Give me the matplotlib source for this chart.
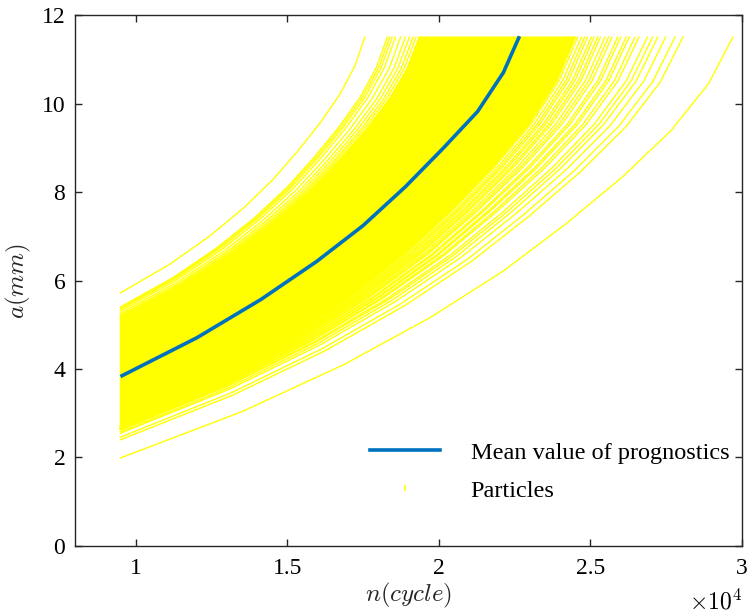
import numpy as np
import matplotlib
matplotlib.use("Agg")
import matplotlib.pyplot as plt
from matplotlib.lines import Line2D

plt.rcParams["font.family"] = ["Liberation Serif", "DejaVu Serif"]
plt.rcParams["mathtext.fontset"] = "cm"

# ---------------- data (n in units of 1e4 cycles, a in mm) ----------------
n_start = 0.95
a_fail = 11.5

# mean prognostic curve
mean_n = [0.95, 1.203, 1.413, 1.597, 1.75, 1.89, 2.016, 2.128, 2.213, 2.266]
mean_a = [3.83, 4.71, 5.57, 6.43, 7.24, 8.12, 9.00, 9.82, 10.70, 11.52]

# common growth profile of a particle trajectory (fractions)
growth_frac_n = [0.0, 0.20, 0.365, 0.505, 0.625, 0.727, 0.819, 0.899, 0.960, 1.0]
growth_frac_a = [0.0, 0.111, 0.222, 0.333, 0.444, 0.556, 0.667, 0.778, 0.889, 1.0]

# individually visible particles: start crack size (mm) and cycles at failure size
upper_a0 = [5.72, 5.40, 5.38, 5.35, 5.31, 5.26, 5.22, 5.19, 5.17, 5.16]
upper_nend = [1.756, 1.830, 1.838, 1.846, 1.857, 1.874, 1.890, 1.903, 1.915, 1.925]

lower_a0 = [2.72, 2.72, 2.71, 2.71, 2.70, 2.70, 2.69, 2.69, 2.68, 2.68,
            2.67, 2.67, 2.66, 2.66, 2.65, 2.65, 2.64, 2.64, 2.63, 2.62,
            2.58, 2.55, 2.46, 2.40, 1.99]
lower_nend = [2.450, 2.458, 2.470, 2.481, 2.490, 2.503, 2.512, 2.524, 2.533, 2.548,
              2.560, 2.571, 2.590, 2.600, 2.618, 2.628, 2.647, 2.660, 2.688, 2.705,
              2.722, 2.748, 2.779, 2.805, 2.970]

# dense core of the particle cloud (bounded by two particle trajectories)
core_upper = (5.15, 1.935)
core_lower = (2.72, 2.450)

x_ticks = [1, 1.5, 2, 2.5, 3]
x_tick_labels = ["1", "1.5", "2", "2.5", "3"]
y_ticks = [0, 2, 4, 6, 8, 10, 12]


def particle_curve(a0, nend):
    fn = np.array(growth_frac_n)
    fa = np.array(growth_frac_a)
    return n_start + (nend - n_start) * fn, a0 + (a_fail - a0) * fa


# ---------------- figure ----------------
fig = plt.figure(figsize=(7.52, 6.15), dpi=100)
ax = fig.add_axes([0.0997, 0.1122, 0.887, 0.8634])

yellow = (1.0, 1.0, 0.0)
blue = (0.0, 0.447, 0.741)
dark = (0.15, 0.15, 0.15)

un, ua = particle_curve(*core_upper)
ln, la = particle_curve(*core_lower)
poly_n = list(un) + list(ln[::-1])
poly_a = list(ua) + list(la[::-1])
ax.fill(poly_n, poly_a, facecolor=yellow, edgecolor=yellow, lw=1.0, zorder=2)

for a0, ne in zip(upper_a0 + lower_a0, upper_nend + lower_nend):
    pn, pa = particle_curve(a0, ne)
    ax.plot(pn, pa, color=yellow, lw=1.0, zorder=2)

ax.plot(mean_n, mean_a, color=blue, lw=2.6, zorder=3, solid_capstyle="butt")

ax.set_xlim(0.8, 3.0)
ax.set_ylim(0, 12)
ax.set_xticks(x_ticks)
ax.set_xticklabels(x_tick_labels)
ax.set_yticks(y_ticks)

for s in ax.spines.values():
    s.set_color(dark)
    s.set_linewidth(1.0)
ax.tick_params(direction="in", length=5, width=1.0, colors=dark,
               labelcolor="black", labelsize=17, top=True, right=True)
ax.tick_params(axis="x", pad=9)
ax.tick_params(axis="y", pad=7)

ax.set_xlabel(r"$n(cycle)$", fontsize=18, color=dark, labelpad=1)
ax.set_ylabel(r"$a(mm)$", fontsize=18, color=dark, labelpad=6)
ax.text(1.0, -0.105, r"$\times10^{4}$", transform=ax.transAxes,
        ha="right", va="center", fontsize=17, color="black")

handles = [Line2D([], [], color=blue, lw=2.6),
           Line2D([], [], color=yellow, marker="|", ms=4, ls="none", mew=1.2)]
ax.legend(handles, ["Mean value of prognostics", "Particles"],
          loc="upper left", bbox_to_anchor=(0.442, 0.196), frameon=False,
          fontsize=17.5, handlelength=2.9, handletextpad=1.25,
          labelspacing=0.65, borderpad=0, borderaxespad=0)

fig.savefig("out.png", dpi=100)
